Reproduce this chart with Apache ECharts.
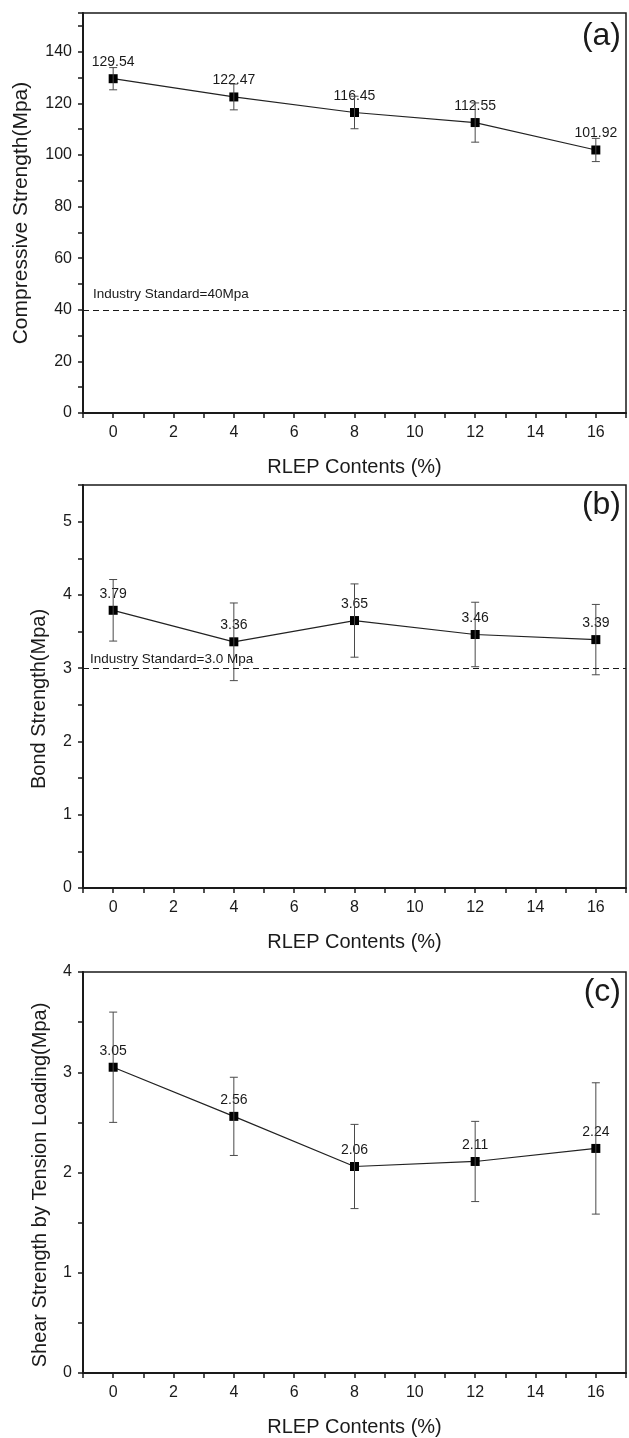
<!DOCTYPE html>
<html>
<head>
<meta charset="utf-8">
<script src="https://cdn.jsdelivr.net/npm/echarts@6/dist/echarts.min.js"></script>
<style>
  html, body { margin: 0; padding: 0; background: #fff; }
  #chart { width: 629px; height: 1438px; }
</style>
</head>
<body>
<div id="chart"></div>
<script>
  // RLEP content (%)
  const contents = [0, 4, 8, 12, 16]
  const xTicks = [0, 2, 4, 6, 8, 10, 12, 14, 16]

  const compressive = [129.54, 122.47, 116.45, 112.55, 101.92]
  const compressiveErr = [4.3, 5.0, 6.3, 7.6, 4.5]
  const bond = [3.79, 3.36, 3.65, 3.46, 3.39]
  const bondErr = [0.42, 0.53, 0.50, 0.44, 0.48]
  const shear = [3.05, 2.56, 2.06, 2.11, 2.24]
  const shearErr = [0.55, 0.39, 0.42, 0.40, 0.655]

  const compressiveTicks = [0, 20, 40, 60, 80, 100, 120, 140]
  const bondTicks = [0, 1, 2, 3, 4, 5]
  const shearTicks = [0, 1, 2, 3, 4]

  const FONT = '"Liberation Sans", Arial, sans-serif'
  const INK = '#1a1a1a'

  const panels = [
    { tag: '(a)', top: 13, height: 400, yMax: 155, yStep: 10, ticks: compressiveTicks,
      name: 'Compressive Strength(Mpa)', nameSize: 21, nameGap: 51, nameShift: 0,
      values: compressive, errs: compressiveErr,
      std: 40, stdText: 'Industry Standard=40Mpa', stdGap: 8, stdPad: 2, tagTop: 20 },
    { tag: '(b)', top: 485, height: 403, yMax: 5.5, yStep: 0.5, ticks: bondTicks,
      name: 'Bond Strength(Mpa)', nameSize: 20, nameGap: 34, nameShift: 25,
      values: bond, errs: bondErr,
      std: 3.0, stdText: 'Industry Standard=3.0 Mpa', stdGap: 2, stdPad: 5, tagTop: 489 },
    { tag: '(c)', top: 972, height: 405, yMax: 4, yStep: 0.5, ticks: shearTicks,
      name: 'Shear Strength by Tension Loading(Mpa)', nameSize: 20, nameGap: 33, nameShift: 25,
      values: shear, errs: shearErr,
      std: null, tagTop: 976 }
  ]

  function errorBar(params, api) {
    const x = api.value(0)
    const lo = api.coord([x, api.value(1)])
    const hi = api.coord([x, api.value(2)])
    const half = 4
    const style = { stroke: '#4a4a4a', lineWidth: 1 }
    return {
      type: 'group',
      children: [
        { type: 'line', shape: { x1: lo[0], y1: lo[1], x2: hi[0], y2: hi[1] }, style },
        { type: 'line', shape: { x1: lo[0] - half, y1: lo[1], x2: lo[0] + half, y2: lo[1] }, style },
        { type: 'line', shape: { x1: hi[0] - half, y1: hi[1], x2: hi[0] + half, y2: hi[1] }, style }
      ]
    }
  }

  const option = {
    backgroundColor: '#fff',
    animation: false,
    textStyle: { fontFamily: FONT },
    grid: [],
    xAxis: [],
    yAxis: [],
    series: [],
    graphic: []
  }

  panels.forEach((p, i) => {
    option.grid.push({
      left: 83, right: 2, top: p.top, height: p.height,
      show: true, borderColor: INK, borderWidth: 1.5
    })
    option.xAxis.push({
      gridIndex: i,
      type: 'value',
      min: -1, max: 17, interval: 1,
      name: 'RLEP Contents (%)',
      nameLocation: 'middle',
      nameGap: 44,
      nameTextStyle: { fontSize: 20, color: INK, fontFamily: FONT },
      axisLine: { onZero: false, lineStyle: { color: INK, width: 2 } },
      axisTick: { length: 5, lineStyle: { color: INK, width: 1.5 } },
      axisLabel: {
        fontSize: 16, color: INK, margin: 12, fontFamily: FONT,
        formatter: v => xTicks.indexOf(v) >= 0 ? String(v) : ''
      },
      splitLine: { show: false }
    })
    option.yAxis.push({
      gridIndex: i,
      type: 'value',
      min: 0, max: p.yMax, interval: p.yStep,
      name: p.name,
      nameLocation: 'middle',
      nameGap: p.nameGap,
      nameTextStyle: {
        fontSize: p.nameSize, color: INK, fontFamily: FONT,
        padding: [0, p.nameShift, 0, 0]
      },
      axisLine: { onZero: false, lineStyle: { color: INK, width: 2 } },
      axisTick: { length: 5, lineStyle: { color: INK, width: 1.5 } },
      axisLabel: {
        fontSize: 16, color: INK, margin: 11, fontFamily: FONT,
        showMaxLabel: true,
        formatter: v => {
          const r = Math.round(v * 1000) / 1000
          return p.ticks.indexOf(r) >= 0 ? String(r) : ''
        }
      },
      splitLine: { show: false }
    })

    const line = {
      type: 'line',
      xAxisIndex: i, yAxisIndex: i,
      data: contents.map((c, k) => [c, p.values[k]]),
      symbol: 'rect',
      symbolSize: 9,
      itemStyle: { color: '#000' },
      lineStyle: { color: '#222', width: 1.2 },
      label: {
        show: true, position: 'top', distance: 5,
        fontSize: 14, color: INK, fontFamily: FONT,
        formatter: d => d.value[1].toFixed(2)
      },
      z: 3
    }
    if (p.std !== null) {
      line.markLine = {
        silent: true,
        symbol: 'none',
        data: [{ yAxis: p.std }],
        lineStyle: { type: [6, 4], color: INK, width: 1.2 },
        label: {
          position: 'insideStartTop', distance: p.stdGap,
          padding: [0, 0, 0, p.stdPad],
          formatter: p.stdText, fontSize: 13.5, color: INK, fontFamily: FONT
        }
      }
    }
    option.series.push(line)

    option.series.push({
      type: 'custom',
      xAxisIndex: i, yAxisIndex: i,
      renderItem: errorBar,
      encode: { x: 0, y: [1, 2] },
      data: contents.map((c, k) => [c, p.values[k] - p.errs[k], p.values[k] + p.errs[k]]),
      z: 4
    })

    option.graphic.push({
      type: 'text', right: 8, top: p.tagTop,
      style: { text: p.tag, font: '32px ' + FONT, fill: INK }
    })
  })

  const chart = echarts.init(document.getElementById('chart'))
  chart.setOption(option)
</script>
</body>
</html>
